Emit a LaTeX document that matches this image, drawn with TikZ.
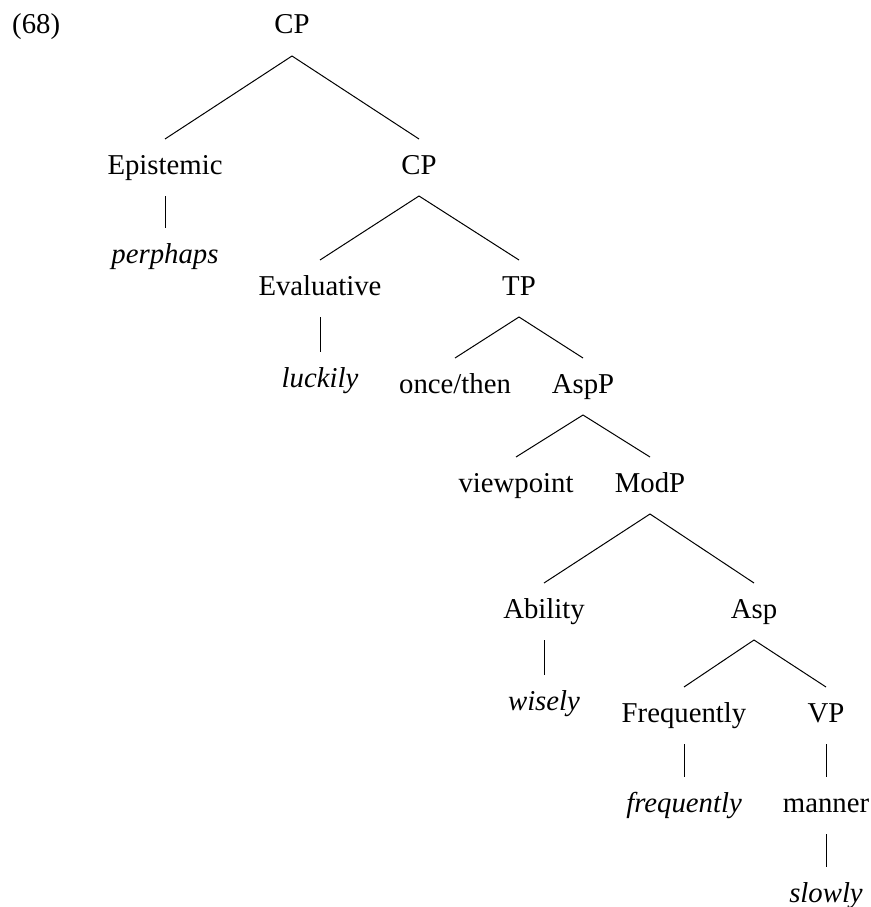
\documentclass[tikz,border=0pt]{standalone}
\usepackage{fontspec}
\setmainfont{Liberation Serif}
\usetikzlibrary{calc}
\newcommand\treeedge[2]{\draw[treeline] ($(#1.base)+(0,22)$) -- ($(#2.base)+(0,-35)$);}
\begin{document}
\begin{tikzpicture}[x=1pt,y=-1pt,
  lab/.style={anchor=base,inner sep=0pt,font=\fontsize{28.75}{34}\selectfont},
  ilab/.style={lab,font=\fontsize{28.75}{34}\selectfont\itshape},
  treeline/.style={line width=1pt}]
\useasboundingbox (0,0) rectangle (870,907);
\node[lab,anchor=base west] (num) at (12,34) {(68)};
\node[lab] (cp1) at (292,34) {CP};
\node[lab] (ep) at (165,174) {Epistemic};
\node[lab] (cp2) at (419,174) {CP};
\node[ilab] (perh) at (165,263) {perphaps};
\node[lab] (ev) at (320,295) {Evaluative};
\node[lab] (tp) at (519,295) {TP};
\node[ilab] (luck) at (320,387) {luckily};
\node[lab] (once) at (455,393) {once/then};
\node[lab] (aspp) at (583,393) {AspP};
\node[lab] (view) at (516,492) {viewpoint};
\node[lab] (modp) at (650,492) {ModP};
\node[lab] (abil) at (544,618) {Ability};
\node[lab] (asp) at (754,618) {Asp};
\node[ilab] (wise) at (544,710) {wisely};
\node[lab] (freq) at (684,722) {Frequently};
\node[lab] (vp) at (826,722) {VP};
\node[ilab] (freqi) at (684,812) {frequently};
\node[lab] (man) at (826,812) {manner};
\node[ilab] (slow) at (826,902) {slowly};
\treeedge{cp1}{ep}
\treeedge{cp1}{cp2}
\treeedge{ep}{perh}
\treeedge{cp2}{ev}
\treeedge{cp2}{tp}
\treeedge{ev}{luck}
\treeedge{tp}{once}
\treeedge{tp}{aspp}
\treeedge{aspp}{view}
\treeedge{aspp}{modp}
\treeedge{modp}{abil}
\treeedge{modp}{asp}
\treeedge{abil}{wise}
\treeedge{asp}{freq}
\treeedge{asp}{vp}
\treeedge{freq}{freqi}
\treeedge{vp}{man}
\treeedge{man}{slow}
\end{tikzpicture}
\end{document}
